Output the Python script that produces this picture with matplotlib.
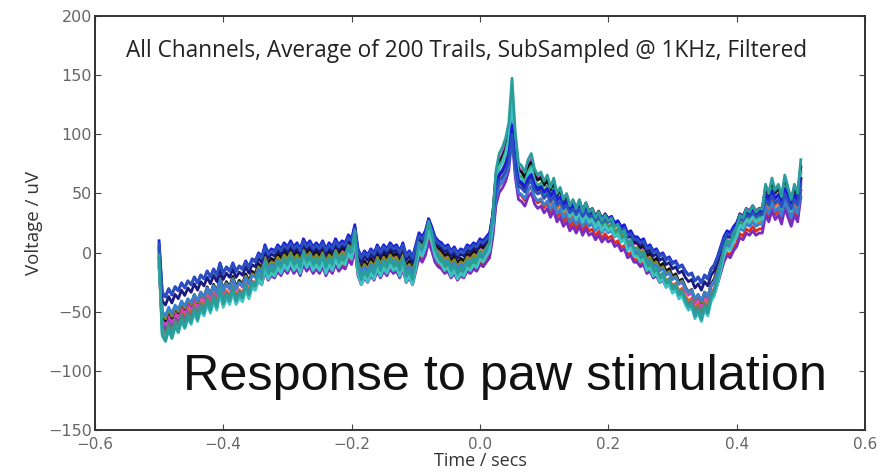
"""Evoked response, all channels overlaid (paw stimulation)."""
import numpy as np
import matplotlib
matplotlib.use("Agg")
import matplotlib.pyplot as plt

# time axis: -0.5 .. 0.5 s, one value read every 5 ms
t = np.linspace(-0.5, 0.5, 201)

# band centre (uV)
media = [
    0, -52, -56, -48, -54, -46, -50, -42, -47, -40,
    -44, -36, -42, -34, -38, -30, -36, -28, -34, -22,
    -32, -26, -30, -22, -30, -25, -28, -20, -26, -18,
    -20, -12, -16, -4, -12, -8, -10, -4, -8, -2,
    -6, 0, -6, -2, -8, 2, -4, 0, -6, -2,
    -6, 0, -8, -2, -6, 2, -4, 0, -2, 6,
    2, 16, -8, -16, -10, -14, -8, -12, -4, -10,
    -4, -8, -2, -6, -4, -10, -2, -14, -10, -16,
    -4, 8, 4, 10, 22, 14, 4, 0, -2, -6,
    -4, -10, -6, -12, -8, -10, -4, -6, -2, -4,
    2, 0, 4, 8, 26, 55, 66, 70, 76, 86,
    115, 80, 60, 58, 54, 62, 66, 56, 52, 54,
    48, 52, 44, 50, 40, 44, 36, 40, 32, 36,
    30, 36, 28, 34, 28, 30, 24, 28, 22, 26,
    22, 24, 18, 20, 14, 16, 8, 10, 4, 4,
    0, 2, -6, -4, -10, -8, -14, -12, -18, -16,
    -22, -20, -26, -24, -30, -34, -32, -40, -36, -42,
    -34, -38, -28, -24, -16, -6, 4, 10, 8, 14,
    18, 26, 24, 30, 28, 32, 28, 30, 30, 46,
    40, 50, 42, 46, 38, 52, 44, 36, 46, 40,
    62,
]

# per-channel spread around the centre (gain, offset) and colour
ganhos = [1.00, 1.05, 0.95, 1.15, 1.10, 1.00, 1.15, 1.20, 0.90, 0.90, 1.20, 0.85, 0.80, 1.30]
offsets = [-10, -5, -12, 3, 4, 0, -4, -6, -3, 6, -8, 10, 8, -2]
cores = ["#e0301c", "#e8641c", "#7a2cc0", "#d040d0", "#101010", "#8a8a20", "#5a8080",
         "#2fa070", "#3a7fd0", "#1a1a80", "#3fc4c4", "#1c1cd8", "#2a50c0", "#2a9d9d"]

fig = plt.figure(figsize=(8.95, 4.75), dpi=100)
ax = fig.add_axes([0.106, 0.095, 0.8605, 0.871])

base = np.array(media, dtype=float)
for g, o, c in zip(ganhos, offsets, cores):
    ax.plot(t, g * base + o, color=c, lw=2.0)

ax.set_xlim(-0.6, 0.6)
ax.set_ylim(-150, 200)
ax.set_xticks(np.arange(-0.6, 0.61, 0.2))
ax.set_yticks(np.arange(-150, 201, 50))
ax.set_xticklabels(["\u22120.6", "\u22120.4", "\u22120.2", "0.0", "0.2", "0.4", "0.6"])
ax.set_yticklabels(["\u2212150", "\u2212100", "\u221250", "0", "50", "100", "150", "200"])
ax.tick_params(direction="in", top=True, right=True, length=4,
               labelcolor="#666666", color="#444444")
ax.tick_params(axis="x", labelsize=11, pad=5)
ax.tick_params(axis="y", labelsize=11.5, pad=2)
for s in ax.spines.values():
    s.set_color("#333333")
    s.set_linewidth(1.4)

ax.set_xlabel("Time / secs", fontsize=13, color="#333333", family="Open Sans", labelpad=0)
ax.set_ylabel("Voltage / uV", fontsize=13.5, color="#333333", family="Open Sans", labelpad=4)

ax.text(0.482, 0.915, "All Channels, Average of 200 Trails, SubSampled @ 1KHz, Filtered",
        transform=ax.transAxes, ha="center", va="center", fontsize=16.3,
        family="Open Sans", color="#222222")
ax.text(0.114, 0.096, "Response to paw stimulation", transform=ax.transAxes,
        ha="left", va="baseline", fontsize=36.3, family="Liberation Sans", color="#111111")

fig.savefig("out.png", dpi=100)
